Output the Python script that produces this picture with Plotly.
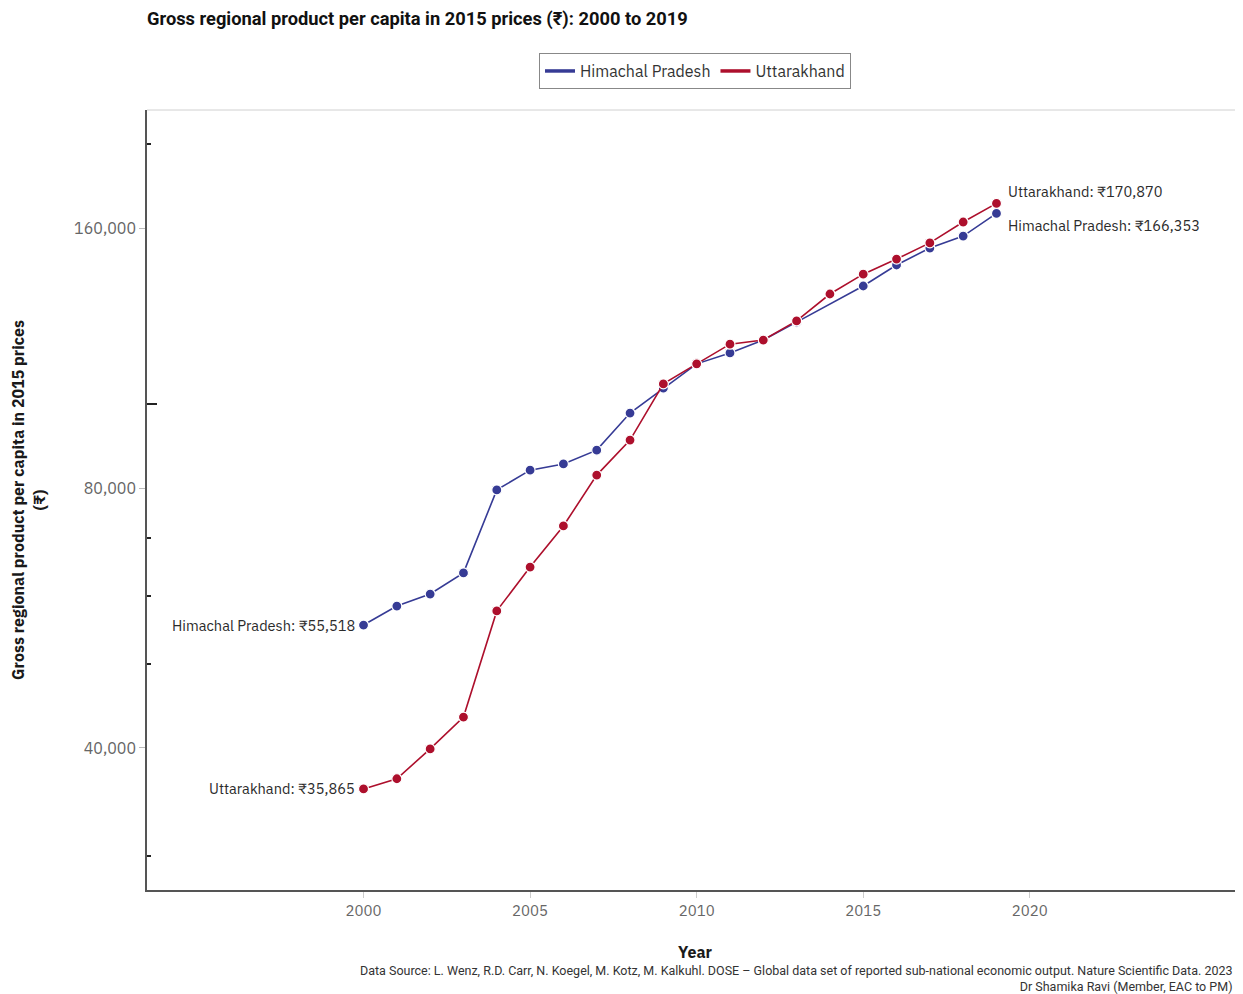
import math
import plotly.graph_objects as go

years = list(range(2000, 2020))
hp_values = [55518, 58400, 60300, 63800, 79600, 83900, 85300, 88500, 97700, 104400,
             111400, 114700, 118700, 124500, None, 137100, 145000, 151700, 156600, 166353]
uk_values = [35865, 36850, 39900, 43440, 57650, 64800, 72300, 82800, 90900, 105600,
             111400, 117400, 118700, 124900, 134200, 141500, 147300, 153800, 162600, 170870]

series_names = ["Himachal Pradesh", "Uttarakhand"]
colors = ["#363b95", "#ad0f2c"]
y_tickvals = [40000, 80000, 160000]
y_ticktext = ["40,000", "80,000", "160,000"]
y_minor_ticks = [30000, 50000, 60000, 70000, 200000]
x_tickvals = [2000, 2005, 2010, 2015, 2020]

FONT = "IBM Plex Sans, Noto Sans, Open Sans, sans-serif"
TFONT = "Roboto, sans-serif"

W, H = 1235, 986
L, T, B = 139, 102, 104

fig = go.Figure()
for name, vals, col in zip(series_names, [hp_values, uk_values], colors):
    fig.add_trace(go.Scatter(
        x=years, y=vals, mode="lines+markers", name=name, showlegend=False,
        connectgaps=True,
        line=dict(color=col, width=1.6),
        marker=dict(size=10, color=col, line=dict(color="white", width=1.2)),
    ))
    fig.add_trace(go.Scatter(
        x=[None], y=[None], mode="lines", name=name,
        line=dict(color=col, width=3.5),
    ))

def fmt(v):
    return f"{v:,}"

hp_first = hp_values[0]
uk_first = uk_values[0]
hp_last = hp_values[-1]
uk_last = uk_values[-1]
lab_font = dict(family=FONT, size=14.6, color="#2b2b2b")
fig.add_annotation(x=years[0], y=math.log10(hp_first), text=f"Himachal Pradesh: ₹{fmt(hp_first)}",
                   showarrow=False, xanchor="right", yanchor="middle", xshift=-7, font=lab_font)
fig.add_annotation(x=years[0], y=math.log10(uk_first), text=f"Uttarakhand: ₹{fmt(uk_first)}",
                   showarrow=False, xanchor="right", yanchor="middle", xshift=-7, font=lab_font)
fig.add_annotation(x=years[-1], y=math.log10(uk_last), text=f"Uttarakhand: ₹{fmt(uk_last)}",
                   showarrow=False, xanchor="left", yanchor="middle", xshift=10, yshift=12, font=lab_font)
fig.add_annotation(x=years[-1], y=math.log10(hp_last), text=f"Himachal Pradesh: ₹{fmt(hp_last)}",
                   showarrow=False, xanchor="left", yanchor="middle", xshift=10, yshift=-12, font=lab_font)

# y axis title
fig.add_annotation(xref="paper", yref="paper", x=-0.1086, y=0.5,
                   text="<b>Gross regional product per capita in 2015 prices<br>(₹)</b>",
                   textangle=-90, showarrow=False, xanchor="center", yanchor="middle",
                   font=dict(family=FONT, size=16, color="#1a1a1a"))

# source
fig.add_annotation(xref="paper", yref="paper", x=1, y=-0.0905, xshift=-8,
                   text="Data Source: L. Wenz, R.D. Carr, N. Koegel, M. Kotz, M. Kalkuhl. DOSE – Global data set of reported sub-national economic output. Nature Scientific Data. 2023<br>Dr Shamika Ravi (Member, EAC to PM)",
                   showarrow=False, xanchor="right", yanchor="top", align="right",
                   font=dict(family=TFONT, size=12.5, color="#333333"))

# top border
fig.add_shape(type="line", xref="paper", yref="paper", x0=0, x1=1, y0=1, y1=1,
              line=dict(color="#d0d0d0", width=1))

fig.update_layout(
    width=W, height=H,
    margin=dict(l=L, r=0, t=T, b=B),
    paper_bgcolor="white", plot_bgcolor="white",
    font=dict(family=FONT, size=14, color="#333"),
    title=dict(text="<b>Gross regional product per capita in 2015 prices (₹): 2000 to 2019</b>",
               x=L / W, xanchor="left", xref="container", y=1 - 11 / H, yanchor="middle",
               yref="container", font=dict(family=TFONT, size=18.3, color="#111")),
    legend=dict(orientation="h", x=0.5, xanchor="center", y=1.073, yanchor="top",
                bordercolor="#888", borderwidth=1, font=dict(family=FONT, size=16, color="#333"),
                itemwidth=30, tracegroupgap=0),
    xaxis=dict(range=[1993.5, 2026.4], tickvals=x_tickvals, showgrid=False, zeroline=False,
               showline=True, linecolor="#555", linewidth=1.5,
               ticks="outside", ticklen=6, tickcolor="#cccccc",
               tickfont=dict(family=FONT, size=15, color="#666"),
               title=dict(text="<b>Year</b>", standoff=28, font=dict(family=FONT, size=16, color="#1a1a1a"))),
    yaxis=dict(type="log", range=[math.log10(27390), math.log10(219200)],
               tickvals=y_tickvals, ticktext=y_ticktext, showgrid=False, zeroline=False,
               showline=True, linecolor="#555", linewidth=1.5,
               ticks="outside", ticklen=6, tickcolor="#bbbbbb",
               tickfont=dict(family=FONT, size=16, color="#666"),
               minor=dict(tickvals=y_minor_ticks, ticks="inside", ticklen=4, tickcolor="#222", tickwidth=1.5)),
    yaxis2=dict(type="log", range=[math.log10(27390), math.log10(219200)], overlaying="y",
                tickvals=[100000], ticks="inside", ticklen=10, tickcolor="#222", tickwidth=1.5,
                showticklabels=False, showgrid=False, zeroline=False, showline=False),
)
fig.add_trace(go.Scatter(x=[None], y=[None], yaxis="y2", showlegend=False))

fig.write_html("out.html")
